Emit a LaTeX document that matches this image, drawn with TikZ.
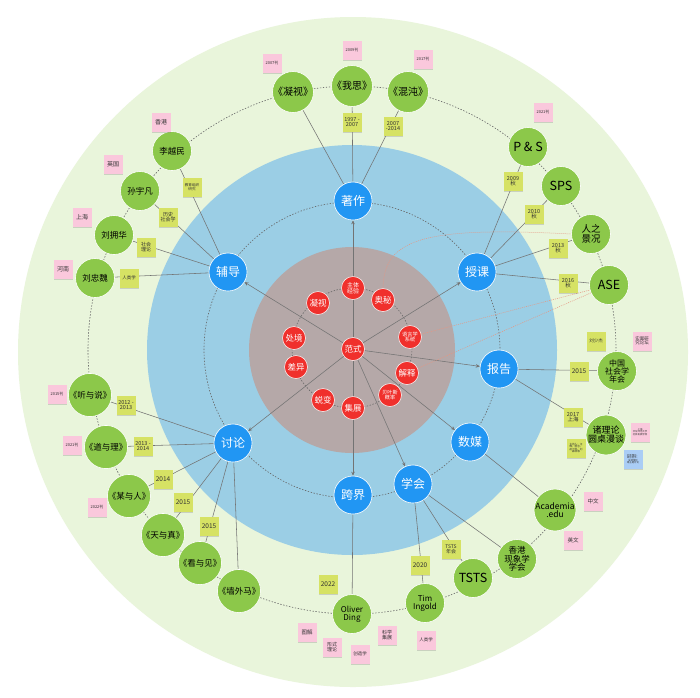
\documentclass[tikz,border=0pt]{standalone}
\usepackage{fontspec}
\setmainfont{Noto Sans CJK SC}
\usetikzlibrary{arrows.meta,shadows}
\definecolor{ringgreen}{RGB}{233,245,219}
\definecolor{ringblue}{RGB}{155,206,229}
\definecolor{ringbrown}{RGB}{181,168,168}
\definecolor{nodered}{RGB}{240,48,44}
\definecolor{nodeblue}{RGB}{33,150,243}
\definecolor{nodegreen}{RGB}{140,200,74}
\definecolor{noteyellow}{RGB}{214,226,100}
\definecolor{notepink}{RGB}{250,200,220}
\definecolor{noteblue}{RGB}{170,205,245}
\definecolor{linkgray}{RGB}{115,115,115}
\definecolor{salmon}{RGB}{230,150,130}
\newcommand{\fs}[1]{\fontsize{#1}{#1}\selectfont}
\pgfdeclarelayer{back}
\pgfdeclarelayer{mid}
\pgfdeclarelayer{front}
\pgfsetlayers{back,mid,main,front}
\tikzset{
  rednode/.style={circle, fill=nodered, draw=white, line width=0.5pt, minimum size=23pt, inner sep=0pt, text=white, align=center, font=\fs{8.5}},
  bluenode/.style={circle, fill=nodeblue, draw=white, line width=0.6pt, minimum size=38pt, inner sep=0pt, text=white, align=center, font=\fs{12}},
  greennode/.style={circle, fill=nodegreen, draw=white, line width=0.6pt, minimum size=39pt, inner sep=0pt, text=black, align=center, font=\fs{10}},
  notebase/.style={minimum width=19pt, minimum height=19pt, inner sep=0pt, align=center, font=\fs{5}, text=black!80,
     drop shadow={shadow xshift=0.6pt, shadow yshift=-1.2pt, opacity=0.3}},
  ynote/.style={notebase, fill=noteyellow},
  pnote/.style={notebase, fill=notepink},
  bnote/.style={notebase, fill=noteblue},
  ringline/.style={draw=black!60, line width=0.6pt, dash pattern=on 1.4pt off 1.6pt},
  link/.style={draw=linkgray, line width=0.55pt},
  arrowlink/.style={link, -{Stealth[length=4pt,width=3.5pt]}},
  orangelink/.style={draw=salmon, line width=0.5pt, dash pattern=on 1pt off 1pt},
}
\begin{document}
\begin{tikzpicture}[x=1pt,y=-1pt]
\useasboundingbox (0,0) rectangle (700,697);
\begin{pgfonlayer}{back}
\fill[white] (0,0) rectangle (700,697);
\fill[ringgreen] (353,352) circle (335);
\fill[ringblue] (352,350) circle (205);
\fill[ringbrown] (352,350) circle (103);
\draw[ringline] (352,350) circle (264);
\draw[ringline] (352,350) circle (148);
\draw[ringline] (352,348) circle (60);
\end{pgfonlayer}

% ---------- nodes ----------
\node[rednode] (fs) at (353,349) {范式};
\node[rednode, font=\fs{6}] (ztjy) at (353,288) {主体\\经验};
\node[rednode] (am) at (383,300) {奥秘};
\node[rednode, font=\fs{5.2}] (yyx) at (410,337) {语言学\\系统};
\node[rednode] (js) at (407,373) {解释};
\node[rednode, font=\fs{5.2}] (byx) at (390,395) {贝叶斯\\概率};
\node[rednode] (jz) at (353,408) {集展};
\node[rednode] (tb) at (323,400) {蜕变};
\node[rednode] (cy) at (296,367) {差异};
\node[rednode] (cj) at (294,338) {处境};
\node[rednode] (nsr) at (318,303) {凝视};

\node[bluenode] (zz) at (353,201) {著作};
\node[bluenode] (fd) at (228,272) {辅导};
\node[bluenode] (sk) at (477,272) {授课};
\node[bluenode] (bg) at (499,369) {报告};
\node[bluenode] (sm) at (470,442) {数媒};
\node[bluenode] (xh) at (413,484) {学会};
\node[bluenode] (kj) at (353,495) {跨界};
\node[bluenode] (tl) at (233,443) {讨论};

\node[greennode] (g1) at (293,92) {《凝视》};
\node[greennode] (g2) at (352,86) {《我思》};
\node[greennode] (g3) at (408,92) {《混沌》};
\node[greennode, font=\fs{12.5}] (ps) at (528,147) {P \& S};
\node[greennode, font=\fs{12.5}] (sps) at (561,186) {SPS};
\node[greennode, font=\fs{9.5}] (rzjk) at (591,234) {人之\\景况};
\node[greennode, font=\fs{12.5}] (ase) at (609,285) {ASE};
\node[greennode, font=\fs{8}] (zgsh) at (617,371) {中国\\社会学\\年会};
\node[greennode, font=\fs{9}] (zll) at (606,435) {诸理论\\圆桌漫谈};
\node[greennode, font=\fs{8.5}] (acad) at (555,510) {Academia\\.edu};
\node[greennode, font=\fs{8.5}] (xgxx) at (517,559) {香港\\现象学\\学会};
\node[greennode, font=\fs{12.5}] (tsts) at (473,578) {TSTS};
\node[greennode, font=\fs{8}] (tim) at (425,603) {Tim\\Ingold};
\node[greennode, font=\fs{8}] (od) at (352,614) {Oliver\\Ding};
\node[greennode, font=\fs{8.5}] (qwm) at (239,591) {《墙外马》};
\node[greennode, font=\fs{8.5}] (kyj) at (200,563) {《看与见》};
\node[greennode, font=\fs{8.5}] (tyz) at (163,535) {《天与真》};
\node[greennode, font=\fs{8.5}] (myr) at (129,496) {《某与人》};
\node[greennode, font=\fs{8.5}] (dyl) at (106,447) {《道与理》};
\node[greennode, font=\fs{8.5}] (tys) at (90,395) {《听与说》};
\node[greennode, font=\fs{8.5}] (lzw) at (95,278) {刘忠魏};
\node[greennode, font=\fs{8.5}] (lyh) at (114,235) {刘拥华};
\node[greennode, font=\fs{8.5}] (syf) at (140,191) {孙宇凡};
\node[greennode, font=\fs{8.5}] (lym) at (172,151) {李越民};

% ---------- connectors ----------
\begin{pgfonlayer}{mid}
\foreach \b in {zz,fd,sk,bg,sm,xh,kj,tl} \draw[arrowlink] (fs) -- (\b);
\foreach \g in {g1,g2,g3} \draw[link] (zz) -- (\g);
\foreach \g in {lym,syf,lyh,lzw} \draw[link] (fd) -- (\g);
\foreach \g in {ps,sps,rzjk,ase} \draw[link] (sk) -- (\g);
\foreach \g in {zgsh,zll} \draw[link] (bg) -- (\g);
\draw[link] (sm) -- (acad);
\foreach \g in {tim,tsts,xgxx} \draw[link] (xh) -- (\g);
\draw[link] (kj) -- (od);
\foreach \g in {tys,dyl,myr,tyz,kyj,qwm} \draw[link] (tl) -- (\g);
\draw[orangelink] (am.north) .. controls (384,240) and (420,226) .. (rzjk.west);
\draw[orangelink] (yyx) -- (ase);
\draw[orangelink] (js) -- (ase);
\end{pgfonlayer}

% ---------- sticky notes ----------
\begin{pgfonlayer}{front}
% yellow
\node[ynote, font=\fs{5.5}] (y1) at (352,122) {1997 -\\2007};
\node[ynote, font=\fs{5.5}] (y2) at (393,126) {2007\\-2014};
\node[ynote, font=\fs{3.6}] (y3) at (192,187) {教育组织\\研究};
\node[ynote, font=\fs{5}] (y4) at (168,217) {历史\\社会学};
\node[ynote, font=\fs{5}] (y5) at (146,247) {社会\\理论};
\node[ynote, font=\fs{4.5}] (y6) at (129,278) {人类学};
\node[ynote, font=\fs{5.5}] (y7) at (513,181) {2009\\秋};
\node[ynote, font=\fs{5.5}] (y8) at (534,214) {2010\\秋};
\node[ynote, font=\fs{5.5}] (y9) at (558,248) {2013\\秋};
\node[ynote, font=\fs{5.5}] (y10) at (568,283) {2016\\秋};
\node[ynote, font=\fs{4.5}] (y11) at (596,341) {刘少杰};
\node[ynote, font=\fs{6.5}] (y12) at (579,371) {2015};
\node[ynote, font=\fs{5.5}] (y13) at (573,417) {2017\\上海};
\node[ynote, font=\fs{2.6}] (y14) at (576,448) {主持人：汪\\晖、杨念、\\赵汀阳、刘\\森林等};
\node[ynote, font=\fs{5.5}] (y15) at (126,405) {2012 -\\2013};
\node[ynote, font=\fs{5.5}] (y16) at (143,446) {2013 -\\2014};
\node[ynote, font=\fs{6.5}] (y17) at (163,479) {2014};
\node[ynote, font=\fs{6.5}] (y18) at (183,502) {2015};
\node[ynote, font=\fs{6.5}] (y19) at (209,526) {2015};
\node[ynote, font=\fs{5}] (y20) at (451,549) {TSTS\\年会};
\node[ynote, font=\fs{6.5}] (y21) at (420,565) {2020};
\node[ynote, font=\fs{6.5}] (y22) at (328,584) {2022};
% pink
\node[pnote, font=\fs{4}] (p1) at (272,63) {2007刊};
\node[pnote, font=\fs{4}] (p2) at (352,50) {2009刊};
\node[pnote, font=\fs{4}] (p3) at (423,59) {2017刊};
\node[pnote, font=\fs{4}] (p4) at (543,112) {2021刊};
\node[pnote, font=\fs{6}] (p5) at (161,122) {香港};
\node[pnote, font=\fs{6}] (p6) at (113,164) {英国};
\node[pnote, font=\fs{6}] (p7) at (82,217) {上海};
\node[pnote, font=\fs{6}] (p8) at (63,269) {河南};
\node[pnote, font=\fs{4.5}] (p9) at (642,341) {实案研\\究论坛};
\node[pnote, font=\fs{2.4}] (p10) at (640,432) {上海\\华东师范大学\\社会发展学院};
\node[bnote, font=\fs{2.4}] (b1) at (633,459) {社会理论、\\政治哲学、\\法律理论\\等主题讨论};
\node[pnote, font=\fs{5.5}] (p11) at (593,501) {中文};
\node[pnote, font=\fs{5.5}] (p12) at (573,540) {英文};
\node[pnote, font=\fs{4}] (p13) at (57,394) {2015刊};
\node[pnote, font=\fs{4}] (p14) at (72,445) {2021刊};
\node[pnote, font=\fs{4}] (p15) at (97,507) {2022刊};
\node[pnote, font=\fs{5.5}] (p16) at (307,632) {图解};
\node[pnote, font=\fs{5}] (p17) at (332,647) {形式\\理论};
\node[pnote, font=\fs{4.5}] (p18) at (360,654) {创造学};
\node[pnote, font=\fs{5}] (p19) at (387,635) {科学\\集展};
\node[pnote, font=\fs{4.5}] (p20) at (426,640) {人类学};
\end{pgfonlayer}
\end{tikzpicture}
\end{document}
